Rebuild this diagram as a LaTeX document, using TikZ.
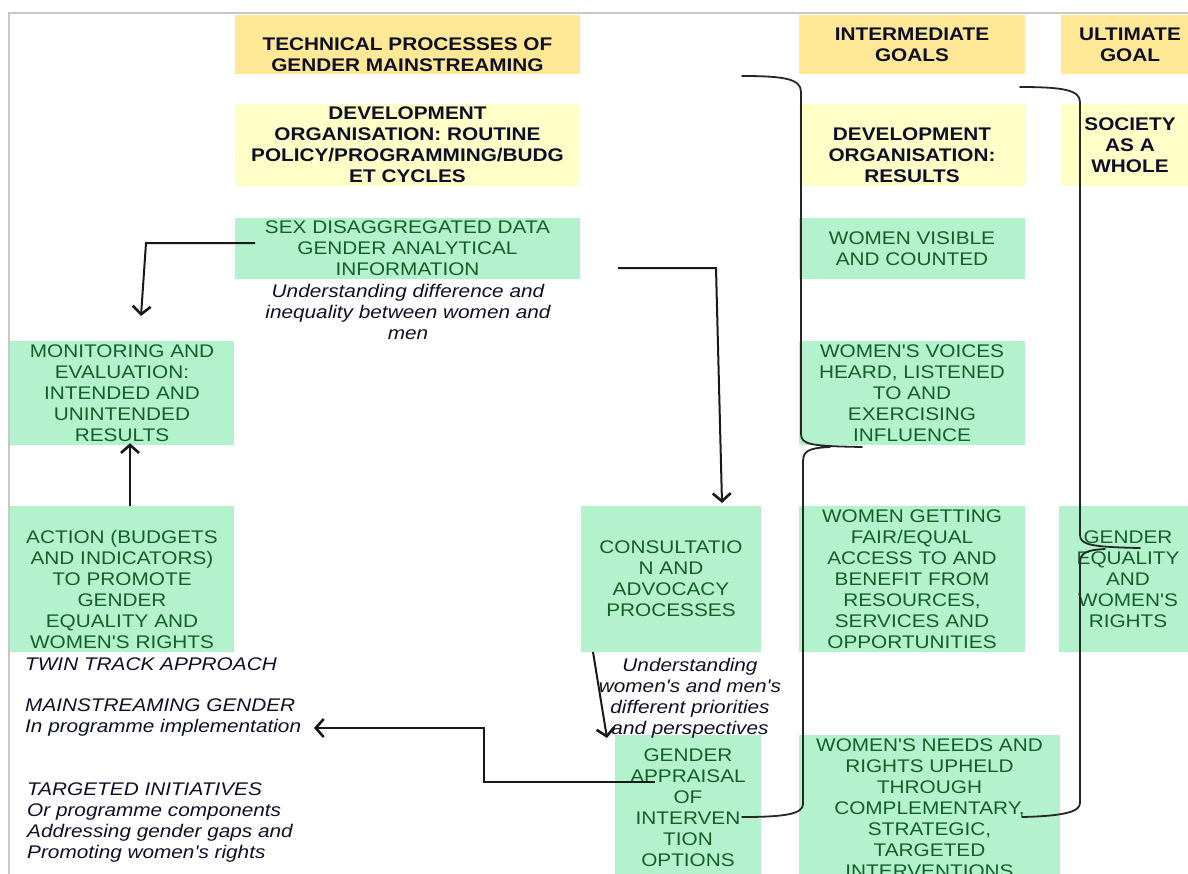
\documentclass[tikz,border=0pt]{standalone}
\usepackage{fontspec}
\setmainfont{Liberation Sans}[FakeStretch=1.135, Ligatures=TeXOff]
\usetikzlibrary{arrows.meta}
\definecolor{hdrY}{RGB}{255,232,150}
\definecolor{subY}{RGB}{255,255,200}
\definecolor{mintG}{RGB}{180,242,206}
\definecolor{textG}{RGB}{20,95,40}
\definecolor{navyT}{RGB}{15,15,40}
\definecolor{frameC}{RGB}{200,200,200}
\newcommand{\tgap}{\rule{0pt}{13pt}\\}
\begin{document}
\begin{tikzpicture}[x=1pt,y=-1pt,
  every node/.style={font=\fontsize{18.3}{21}\selectfont, align=center, inner sep=0pt},
  hdrbox/.style={fill=hdrY, text=navyT, font=\fontsize{18.3}{21}\selectfont\bfseries},
  subbox/.style={fill=subY, text=navyT, font=\fontsize{18.3}{21}\selectfont\bfseries},
  gbox/.style={fill=mintG, text=textG},
  itext/.style={text=navyT, font=\fontsize{18.3}{21}\selectfont\itshape},
  arr/.style={line width=2pt, black!90, -{Straight Barb[length=8pt,width=18pt,line width=2.6pt]}},
  brace/.style={line width=1.8pt, black!85, line cap=round}]
\useasboundingbox (0,0) rectangle (1188,873);
\clip (0,0) rectangle (1188,873);
\fill[white] (0,0) rectangle (1188,873);
% frame
\draw[frameC, line width=2pt] (9,880) -- (9,13) -- (1195,13);

% header row
\node[hdrbox, minimum width=345, minimum height=59] (tech) at (407.5,44.5) {\tgap TECHNICAL PROCESSES OF\\GENDER MAINSTREAMING};
\node[hdrbox, minimum width=226, minimum height=59] (intgoals) at (912,44.5) {INTERMEDIATE\\GOALS};
\node[hdrbox, minimum width=138, minimum height=59] (ultgoal) at (1130,44.5) {ULTIMATE\\GOAL};

% second row
\node[subbox, minimum width=345, minimum height=82] (devroutine) at (407.5,145) {DEVELOPMENT\\ORGANISATION: ROUTINE\\POLICY/PROGRAMMING/BUDG\\ET CYCLES};
\node[subbox, minimum width=226, minimum height=82] (devresults) at (912,145) {\tgap DEVELOPMENT\\ORGANISATION:\\RESULTS};
\node[subbox, minimum width=138, minimum height=82] (society) at (1130,145) {SOCIETY\\AS A\\WHOLE};

% green boxes
\node[gbox, minimum width=345, minimum height=61] (sexdata) at (407.5,248.5) {SEX DISAGGREGATED DATA\\GENDER ANALYTICAL\\INFORMATION};
\node[gbox, minimum width=226, minimum height=61] (visible) at (912,248.5) {WOMEN VISIBLE\\AND COUNTED};
\node[gbox, minimum width=224, minimum height=104] (monitoring) at (122,393) {MONITORING AND\\EVALUATION:\\INTENDED AND\\UNINTENDED\\RESULTS};
\node[gbox, minimum width=226, minimum height=104] (voices) at (912,393) {WOMEN'S VOICES\\HEARD, LISTENED\\TO AND\\EXERCISING\\INFLUENCE};
\node[gbox, minimum width=224, minimum height=146] (action) at (122,579) {\tgap ACTION (BUDGETS\\AND INDICATORS)\\TO PROMOTE\\GENDER\\EQUALITY AND\\WOMEN'S RIGHTS};
\node[gbox, minimum width=180, minimum height=146] (consult) at (671,579) {CONSULTATIO\\N AND\\ADVOCACY\\PROCESSES};
\node[gbox, minimum width=226, minimum height=146] (access) at (912,579) {WOMEN GETTING\\FAIR/EQUAL\\ACCESS TO AND\\BENEFIT FROM\\RESOURCES,\\SERVICES AND\\OPPORTUNITIES};
\node[gbox, minimum width=138, minimum height=146] (equality) at (1128,579) {GENDER\\EQUALITY\\AND\\WOMEN'S\\RIGHTS};
\node[gbox, minimum width=146, minimum height=146] (appraisal) at (688,808) {GENDER\\APPRAISAL\\OF\\INTERVEN\\TION\\OPTIONS};
\node[gbox, minimum width=261, minimum height=146] (needs) at (929.5,808) {WOMEN'S NEEDS AND\\RIGHTS UPHELD\\THROUGH\\COMPLEMENTARY,\\STRATEGIC,\\TARGETED\\INTERVENTIONS};

% italic texts
\node[itext] (und1) at (408,311.5) {Understanding difference and\\inequality between women and\\men};
\node[itext] (und2) at (690,698) {Understanding\\women's and men's\\different priorities\\and perspectives};
\node[itext, anchor=north west, align=left] (twin) at (25,658) {TWIN TRACK APPROACH};
\node[itext, anchor=north west, align=left] (mainstream) at (25,699) {MAINSTREAMING GENDER\\In programme implementation};
\node[itext, anchor=north west, align=left] (targeted) at (27,783) {TARGETED INITIATIVES\\Or programme components\\Addressing gender gaps and\\Promoting women's rights};

% arrows
\coordinate (a1s) at (255,243);
\coordinate (a1c) at (146,243);
\coordinate (a1e) at (141,316);
\draw[arr] (a1s) -- (a1c) -- (a1e);

\draw[arr] ([xshift=8pt]action.north) -- ([xshift=8pt,yshift=2pt]monitoring.south);

\coordinate (a3s) at (618,268);
\coordinate (a3c) at (716,268);
\coordinate (a3e) at (722,503);
\draw[arr] (a3s) -- (a3c) -- (a3e);

\coordinate (a4s) at (593,652);
\coordinate (a4e) at (607,738);
\draw[arr] (a4s) -- (a4e);

\coordinate (a5s) at (655,782);
\coordinate (a5c1) at (484,782);
\coordinate (a5c2) at (484,728);
\coordinate (a5e) at (314,728);
\draw[arr] (a5s) -- (a5c1) -- (a5c2) -- (a5e);

% braces
\coordinate (b1top) at (742,76);
\coordinate (b1tip) at (862,447);
\coordinate (b1bot) at (742,817);
\draw[brace] (b1top) .. controls (785,76) and (801,79) .. (801,92)
  -- (801,434) .. controls (801,445) and (812,446) .. (b1tip)
  (830,447) .. controls (808,448) and (803,451) .. (803,462)
  -- (803,804) .. controls (803,814) and (785,817) .. (b1bot);

\coordinate (b2top) at (1020,87);
\coordinate (b2tip) at (1140,548);
\coordinate (b2bot) at (1022,817);
\draw[brace] (b2top) .. controls (1063,87) and (1080,90) .. (1080,102)
  -- (1080,535) .. controls (1080,545) and (1092,547) .. (b2tip)
  (1105,549) .. controls (1086,550) and (1080,553) .. (1080,563)
  -- (1080,803) .. controls (1080,812) and (1063,816) .. (b2bot);
\end{tikzpicture}
\end{document}
